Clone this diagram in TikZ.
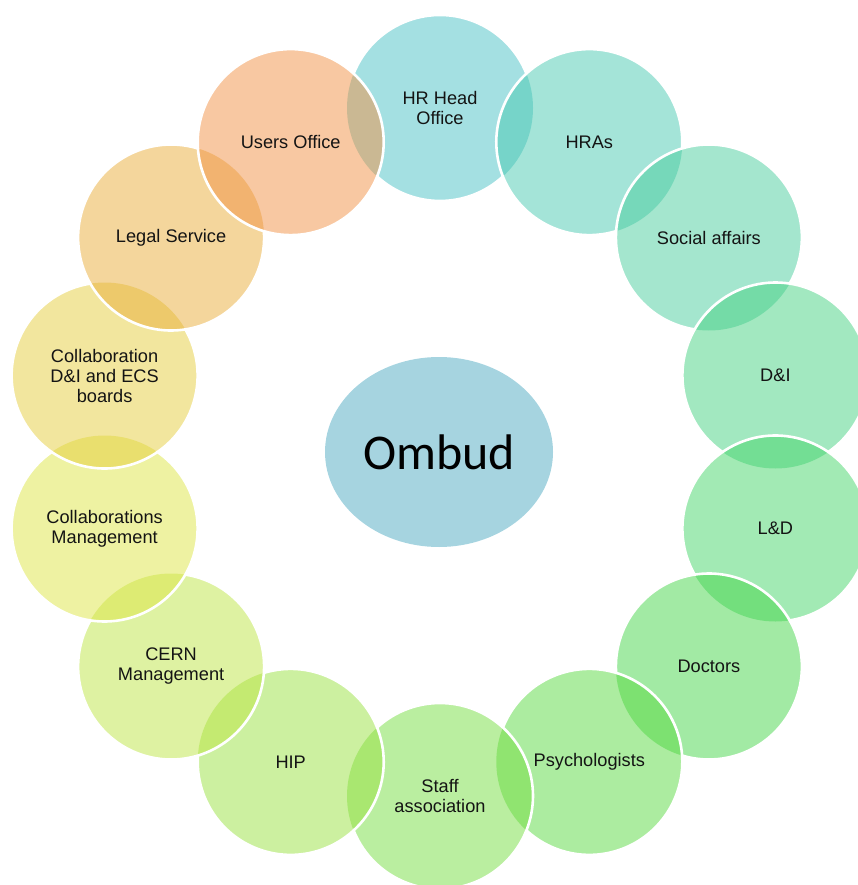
\documentclass[tikz,border=0pt]{standalone}
\usepackage{fontspec}
\setmainfont{Liberation Sans}
\newfontfamily\ombudfont{Carlito}
\usetikzlibrary{shapes.geometric}
\definecolor{cA}{RGB}{73,193,197}
\definecolor{cB}{RGB}{73,201,177}
\definecolor{cC}{RGB}{73,205,157}
\definecolor{cD}{RGB}{69,209,129}
\definecolor{cE}{RGB}{69,213,105}
\definecolor{cF}{RGB}{69,213,73}
\definecolor{cG}{RGB}{89,217,65}
\definecolor{cH}{RGB}{117,221,65}
\definecolor{cI}{RGB}{153,225,65}
\definecolor{cJ}{RGB}{189,229,69}
\definecolor{cK}{RGB}{221,229,69}
\definecolor{cL}{RGB}{229,205,61}
\definecolor{cM}{RGB}{233,173,57}
\definecolor{cN}{RGB}{241,145,69}
\definecolor{ombudc}{RGB}{166,212,224}
\definecolor{txt}{RGB}{20,20,20}
\begin{document}
\begin{tikzpicture}[x=1pt,y=-1pt,
  bubble/.style={circle, minimum size=186pt, inner sep=0pt, fill=#1,
    fill opacity=0.5, text opacity=1,
    align=center, text=txt, font=\fontsize{18.2}{20}\selectfont},
  rim/.style={draw=white, line width=2.6pt}]
\useasboundingbox (0,0) rectangle (858,885);
\clip (0,0) rectangle (858,885);
\node[bubble=cA] (hrhead) at (440,108) {HR Head\\Office};
\node[bubble=cB] (hras) at (589.3,142.1) {HRAs};
\node[bubble=cC] (social) at (708.9,237.5) {Social affairs};
\node[bubble=cD] (di) at (775.4,375.5) {D\&I};
\node[bubble=cE] (ld) at (775.4,528.5) {L\&D};
\node[bubble=cF] (doctors) at (708.9,666.5) {Doctors};
\node[bubble=cG] (psych) at (589.3,761.9) {Psychologists};
\node[bubble=cH] (staff) at (440,796) {Staff\\association};
\node[bubble=cI] (hip) at (290.7,761.9) {HIP};
\node[bubble=cJ] (cern) at (171.1,666.5) {CERN\\Management};
\node[bubble=cK] (collmgmt) at (104.6,528.5) {Collaborations\\Management};
\node[bubble=cL] (colldi) at (104.6,375.5) {Collaboration\\D\&I and ECS\\boards};
\node[bubble=cM] (legal) at (171.1,237.5) {Legal Service};
\node[bubble=cN] (users) at (290.7,142.1) {Users Office};
% white rims: each circle's rim shown except where a later circle lies over it
\draw[rim] (hrhead.center) ++(47.46:93) arc[start angle=47.46, end angle=132.5, radius=93];
\draw[rim] (hrhead.center) ++(201.7:93) arc[start angle=201.7, end angle=338.26, radius=93];
\foreach \n/\k in {hras/1, social/2, di/3, ld/4, doctors/5, psych/6, staff/7,
                   hip/8, cern/9, collmgmt/10, colldi/11, legal/12}{
  \pgfmathsetmacro{\sa}{\k*25.7143+47.46}
  \draw[rim] (\n.center) ++(\sa:93) arc[start angle=\sa, delta angle=290.8, radius=93];
}
\draw[rim] (users.center) circle[radius=93];
\node[ellipse, minimum width=228pt, minimum height=190pt, inner sep=0pt,
  fill=ombudc, text=black] (ombud) at (439,452)
  {\ombudfont\fontsize{50}{60}\selectfont Ombud};
\end{tikzpicture}
\end{document}
